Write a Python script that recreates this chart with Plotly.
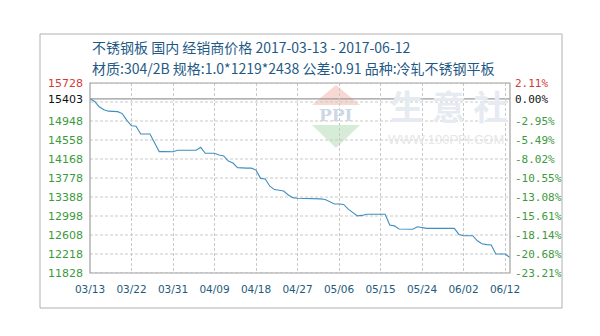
import plotly.graph_objects as go

# ---------------- data ----------------
days = list(range(92))  # day offset from 2017-03-13
prices = [15403, 15350, 15240, 15180, 15150, 15145, 15140, 15100, 14960, 14850,
          14840, 14680, 14680, 14680, 14500, 14320, 14320, 14320, 14318, 14347,
          14347, 14347, 14347, 14347, 14408, 14285, 14285, 14285, 14250, 14230,
          14125, 14085, 13990, 13980, 13980, 13980, 13940, 13770, 13757, 13610,
          13540, 13528, 13510, 13430, 13375, 13361, 13361, 13361, 13361, 13361,
          13350, 13335, 13290, 13244, 13244, 13235, 13140, 13060, 13000, 13010,
          13033, 13033, 13033, 13033, 13033, 12813, 12795, 12730, 12725, 12725,
          12725, 12778, 12760, 12745, 12745, 12745, 12745, 12745, 12745, 12745,
          12620, 12594, 12594, 12594, 12490, 12430, 12410, 12403, 12218, 12218,
          12218, 12150]

x_tick_days = [0, 9, 18, 27, 36, 45, 54, 63, 72, 81, 90]
x_tick_labels = ["03/13", "03/22", "03/31", "04/09", "04/18", "04/27",
                 "05/06", "05/15", "05/24", "06/02", "06/12"]

grid_vals = [11828, 12218, 12608, 12998, 13388, 13778, 14168, 14558, 14948, 15338, 15728]
base_price = 15403
y_label_vals = [11828, 12218, 12608, 12998, 13388, 13778, 14168, 14558, 14948, 15403, 15728]
y_label_text = ["11828", "12218", "12608", "12998", "13388", "13778", "14168",
                "14558", "14948", "15403", "15728"]
pct_label_text = ["-23.21%", "-20.68%", "-18.14%", "-15.61%", "-13.08%", "-10.55%",
                  "-8.02%", "-5.49%", "-2.95%", "0.00%", "2.11%"]

title1 = "不锈钢板 国内 经销商价格 2017-03-13 - 2017-06-12"
title2 = "材质:304/2B 规格:1.0*1219*2438 公差:0.91 品种:冷轧不锈钢平板"

# ---------------- styling ----------------
RED = "#d23a3a"
GREEN = "#3c9a3c"
BLACK = "#111111"
LINE = "#3f8fc0"
TITLE_C = "#1f5a86"
GRID = "#c9c9c9"


def colored(text, v):
    if v > base_price:
        c = RED
    elif v == base_price:
        c = BLACK
    else:
        c = GREEN
    return f'<span style="color:{c}">{text}</span>'


W, H = 600, 336
L, R, T, B = 90, 90, 83, 63
PW, PH = W - L - R, H - T - B


def px(x):
    return (x - L) / PW


def py(y):
    return (H - B - y) / PH


fig = go.Figure()
fig.add_trace(go.Scatter(x=days, y=prices, mode="lines",
                         line=dict(color=LINE, width=1.1), hoverinfo="skip",
                         showlegend=False))
# invisible trace to activate right axis
fig.add_trace(go.Scatter(x=[days[0]], y=[prices[0]], yaxis="y2", mode="lines",
                         line=dict(width=0), hoverinfo="skip", showlegend=False))

shapes = []
# outer frame
shapes.append(dict(type="rect", xref="paper", yref="paper",
                   x0=px(40), x1=px(562), y0=py(308), y1=py(34),
                   line=dict(color="#b0b0b0", width=1), layer="below"))
# watermark logo
shapes.append(dict(type="path", xref="paper", yref="paper",
                   path=f"M {px(312)} {py(105)} L {px(336)} {py(85)} L {px(360)} {py(105)} Z",
                   fillcolor="#f7d9d2", line=dict(width=0), layer="below"))
shapes.append(dict(type="path", xref="paper", yref="paper",
                   path=f"M {px(312)} {py(125)} L {px(360)} {py(125)} L {px(336)} {py(148)} Z",
                   fillcolor="#d6ecd6", line=dict(width=0), layer="below"))
# horizontal dashed gridlines
for g in grid_vals:
    shapes.append(dict(type="line", xref="paper", yref="y", x0=0, x1=1, y0=g, y1=g,
                       line=dict(color=GRID, width=1, dash="3px,2px"), layer="below"))
# base line (0.00%)
shapes.append(dict(type="line", xref="paper", yref="y", x0=0, x1=1,
                   y0=base_price, y1=base_price,
                   line=dict(color="#9a9a9a", width=1.2), layer="below"))
# plot border
shapes.append(dict(type="rect", xref="paper", yref="paper", x0=0, x1=1, y0=0, y1=1,
                   line=dict(color="#a0a0a0", width=1.2), layer="above"))

annotations = [
    dict(text=title1, x=0, y=py(47), xref="paper", yref="paper", xanchor="left",
         yanchor="middle", showarrow=False,
         font=dict(family="Noto Sans CJK SC", size=14, color=TITLE_C)),
    dict(text=title2, x=0, y=py(68), xref="paper", yref="paper", xanchor="left",
         yanchor="middle", showarrow=False,
         font=dict(family="Noto Sans CJK SC", size=14, color=TITLE_C)),
    dict(text="<b>生 意 社</b>", x=px(448), y=py(105), xref="paper", yref="paper",
         xanchor="center", yanchor="middle", showarrow=False,
         font=dict(family="Noto Sans CJK SC", size=34, color="#e6ebf1")),
    dict(text="WWW.100PPI.COM", x=px(446), y=py(139), xref="paper", yref="paper",
         xanchor="center", yanchor="middle", showarrow=False,
         font=dict(family="Liberation Sans", size=13, color="#e6e6e6")),
    dict(text="<b>PPI</b>", x=px(336), y=py(115), xref="paper", yref="paper",
         xanchor="center", yanchor="middle", showarrow=False,
         font=dict(family="DejaVu Serif", size=17, color="#cdd7e5")),
]

fig.update_layout(
    width=W, height=H,
    margin=dict(l=L, r=R, t=T, b=B),
    paper_bgcolor="white", plot_bgcolor="rgba(0,0,0,0)",
    shapes=shapes, annotations=annotations,
    xaxis=dict(range=[0, 91.08], tickmode="array", tickvals=x_tick_days,
               ticktext=x_tick_labels, showgrid=True, gridcolor=GRID,
               griddash="3px,2px", gridwidth=1, zeroline=False, showline=False,
               ticks="", ticklabelstandoff=8, fixedrange=True,
               tickfont=dict(family="DejaVu Sans", size=10.5, color="#1d5b7d")),
    yaxis=dict(range=[11828, 15728], tickmode="array", tickvals=y_label_vals,
               ticktext=[colored(t, v) for t, v in zip(y_label_text, y_label_vals)],
               showgrid=False, zeroline=False, showline=False, ticks="",
               ticklabelstandoff=6, fixedrange=True,
               tickfont=dict(family="DejaVu Sans", size=11, color=GREEN)),
    yaxis2=dict(range=[11828, 15728], overlaying="y", side="right",
                tickmode="array", tickvals=y_label_vals,
                ticktext=[colored(t, v) for t, v in zip(pct_label_text, y_label_vals)],
                showgrid=False, zeroline=False, showline=False, ticks="",
                ticklabelstandoff=4, fixedrange=True,
                tickfont=dict(family="DejaVu Sans Mono", size=11, color=GREEN)),
)

fig.write_html("out.html", config={"displayModeBar": False})
